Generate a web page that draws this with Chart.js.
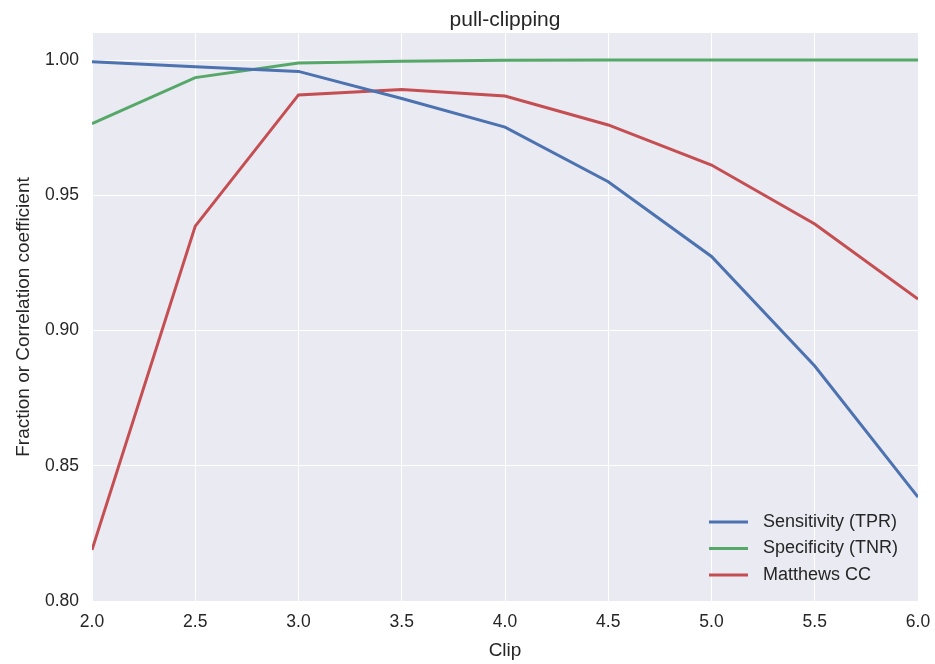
<!DOCTYPE html>
<html lang="en">
<head>
    <meta charset="UTF-8">
    <title>pull-clipping</title>
    <script src="https://cdn.jsdelivr.net/npm/chart.js"></script>
    <style>
        body { margin: 0; background: #fff; }
        .chart-container { width: 935px; height: 664px; }
    </style>
</head>
<body>
    <div class="chart-container">
        <canvas id="clipChart"></canvas>
    </div>

    <script>
        const clips = [2.0, 2.5, 3.0, 3.5, 4.0, 4.5, 5.0, 5.5, 6.0];
        const sensitivity = [0.9994, 0.9975, 0.9958, 0.9858, 0.9752, 0.9550, 0.9274, 0.8869, 0.8384];
        const specificity = [0.9765, 0.9935, 0.9989, 0.9996, 0.9999, 1.0000, 1.0000, 1.0000, 1.0000];
        const matthews = [0.8189, 0.9386, 0.9871, 0.9891, 0.9867, 0.9760, 0.9612, 0.9394, 0.9116];
        const xTicks = [2.0, 2.5, 3.0, 3.5, 4.0, 4.5, 5.0, 5.5, 6.0];
        const yTicks = [0.80, 0.85, 0.90, 0.95, 1.00];
        const chartTitle = 'pull-clipping';

        const textColor = '#262626';
        const font = 'Liberation Sans, Arial, sans-serif';

        const toPoints = ys => clips.map((x, i) => ({ x: x, y: ys[i] }));

        // grey plot background like seaborn darkgrid, title centred over the axes
        const plotBackground = {
            id: 'plotBackground',
            beforeDraw(chart) {
                const { ctx, chartArea: a } = chart;
                ctx.save();
                ctx.fillStyle = '#EAEAF2';
                ctx.fillRect(a.left, a.top, a.right - a.left, a.bottom - a.top);
                ctx.fillStyle = textColor;
                ctx.font = '21px ' + font;
                ctx.textAlign = 'center';
                ctx.textBaseline = 'alphabetic';
                ctx.fillText(chartTitle, (a.left + a.right) / 2, a.top - 7);
                ctx.restore();
            }
        };

        // legend drawn inside the plot, lower right
        const innerLegend = {
            id: 'innerLegend',
            afterDraw(chart) {
                const ctx = chart.ctx;
                const a = chart.chartArea;
                const x0 = a.right - 209;
                const y0 = a.bottom - 79;
                ctx.save();
                ctx.font = '18px ' + font;
                ctx.textBaseline = 'middle';
                chart.data.datasets.forEach((ds, i) => {
                    const y = y0 + i * 26.5;
                    ctx.strokeStyle = ds.borderColor;
                    ctx.lineWidth = 3;
                    ctx.beginPath();
                    ctx.moveTo(x0, y);
                    ctx.lineTo(x0 + 39, y);
                    ctx.stroke();
                    ctx.fillStyle = textColor;
                    ctx.fillText(ds.label, x0 + 54, y);
                });
                ctx.restore();
            }
        };

        const ctx = document.getElementById('clipChart').getContext('2d');
        new Chart(ctx, {
            type: 'line',
            data: {
                datasets: [{
                    label: 'Sensitivity (TPR)',
                    data: toPoints(sensitivity),
                    borderColor: '#4C72B0'
                }, {
                    label: 'Specificity (TNR)',
                    data: toPoints(specificity),
                    borderColor: '#55A868'
                }, {
                    label: 'Matthews CC',
                    data: toPoints(matthews),
                    borderColor: '#C44E52'
                }]
            },
            options: {
                responsive: true,
                maintainAspectRatio: false,
                animation: false,
                layout: { padding: { left: 0, right: 17, top: 33, bottom: 0 } },
                elements: {
                    line: { borderWidth: 3, tension: 0 },
                    point: { radius: 0 }
                },
                plugins: {
                    legend: { display: false },
                    tooltip: { enabled: false },
                    title: { display: false }
                },
                scales: {
                    x: {
                        type: 'linear',
                        min: 2,
                        max: 6,
                        afterFit: s => {
                            s.height = 63;
                            s.paddingLeft = 0;
                            s.paddingRight = 0;
                        },
                        afterBuildTicks: s => { s.ticks = xTicks.map(v => ({ value: v })); },
                        ticks: {
                            color: textColor,
                            padding: 11,
                            maxRotation: 0,
                            font: { family: font, size: 17.5 },
                            callback: v => v.toFixed(1)
                        },
                        grid: { color: '#FFFFFF', lineWidth: 1, drawTicks: false },
                        border: { display: false },
                        title: {
                            display: true,
                            text: 'Clip',
                            color: textColor,
                            font: { family: font, size: 19 },
                            padding: { top: 0, bottom: 2 }
                        }
                    },
                    y: {
                        min: 0.80,
                        max: 1.01,
                        afterFit: s => {
                            s.width = 92;
                            s.paddingTop = 0;
                            s.paddingBottom = 0;
                        },
                        afterBuildTicks: s => { s.ticks = yTicks.map(v => ({ value: v })); },
                        ticks: {
                            color: textColor,
                            padding: 13,
                            font: { family: font, size: 17.5 },
                            callback: v => v.toFixed(2)
                        },
                        grid: { color: '#FFFFFF', lineWidth: 1, drawTicks: false },
                        border: { display: false },
                        title: {
                            display: true,
                            text: 'Fraction or Correlation coefficient',
                            color: textColor,
                            font: { family: font, size: 19 },
                            padding: { top: 12, bottom: 0 }
                        }
                    }
                }
            },
            plugins: [plotBackground, innerLegend]
        });
    </script>
</body>
</html>
